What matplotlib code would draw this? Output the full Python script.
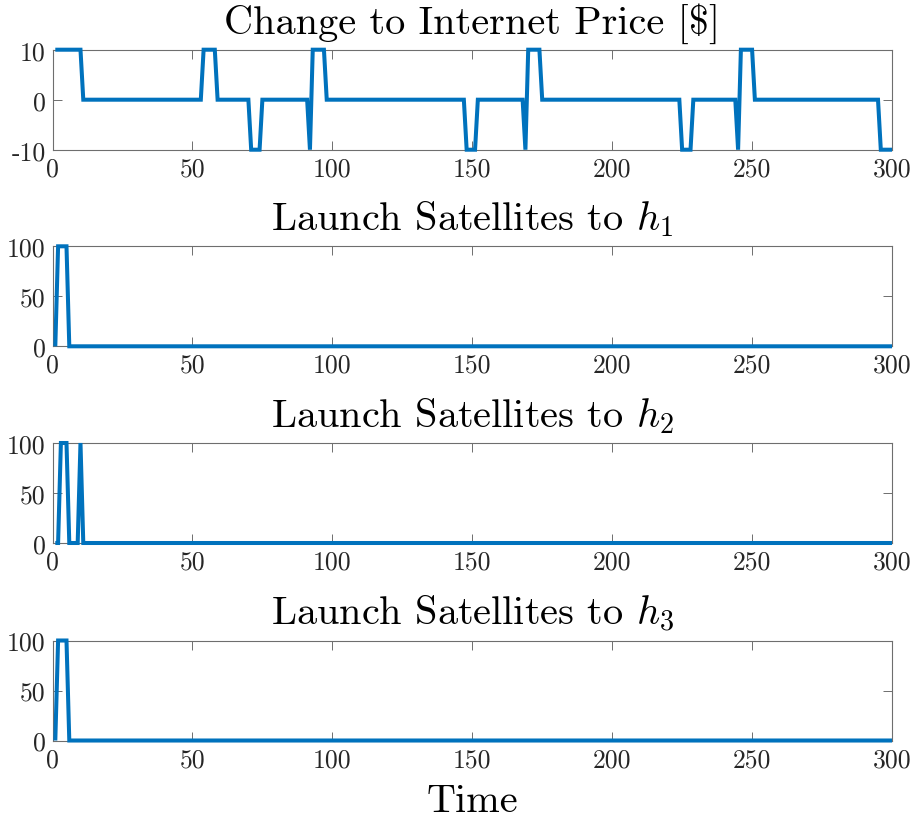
import numpy as np
import matplotlib
matplotlib.use("Agg")
import matplotlib.pyplot as plt

plt.rcParams['font.family'] = ['cmr10', 'DejaVu Serif']
plt.rcParams['mathtext.fontset'] = 'cm'
plt.rcParams['axes.unicode_minus'] = False

# ---- data (run-length encoded control signals, t = 1..300) ----
time = np.arange(1, 301)

price_levels = [10, 0, 10, 0, -10, 0, -10, 10, 0, -10, 0, -10, 10, 0, -10, 0, -10, 10, 0, -10]
price_runs   = [10, 43, 5, 12, 4, 17, 1, 5, 50, 4, 17, 1, 5, 50, 4, 16, 1, 5, 45, 5]

h1_levels = [0, 100, 0]
h1_runs   = [1, 4, 295]

h2_levels = [0, 100, 0, 100, 0]
h2_runs   = [2, 3, 4, 1, 290]

h3_levels = [0, 100, 0]
h3_runs   = [1, 4, 295]

titles = ["Change to Internet Price [\\$]",
          "Launch Satellites to $h_1$",
          "Launch Satellites to $h_2$",
          "Launch Satellites to $h_3$"]

x_ticks = [0, 50, 100, 150, 200, 250, 300]
price_yticks = [-10, 0, 10]
price_yticklabels = ["-10", "0", "10"]
launch_yticks = [0, 50, 100]
launch_yticklabels = ["0", "50", "100"]

series = [np.repeat(price_levels, price_runs),
          np.repeat(h1_levels, h1_runs),
          np.repeat(h2_levels, h2_runs),
          np.repeat(h3_levels, h3_runs)]

# ---- figure ----
W, H = 916, 820
fig = plt.figure(figsize=(W / 100, H / 100), dpi=100)

left = 52.5 / W
width = 839.5 / W
tops = [50.7, 247.3, 444.0, 641.5]
height_px = 100.0

line_color = '#0072BD'
spine_color = '#6e6e6e'
text_color = '#262626'

for i, (y, title) in enumerate(zip(series, titles)):
    top = tops[i]
    ax = fig.add_axes([left, 1 - (top + height_px) / H, width, height_px / H])
    ax.plot(time, y, color=line_color, lw=2.9, clip_on=False,
            solid_joinstyle='miter', solid_capstyle='butt', zorder=3)
    ax.set_xlim(0, 300)
    if i == 0:
        ax.set_ylim(-10, 10)
        ax.set_yticks(price_yticks)
        ax.set_yticklabels(price_yticklabels)
    else:
        ax.set_ylim(0, 100)
        ax.set_yticks(launch_yticks)
        ax.set_yticklabels(launch_yticklabels)
    ax.set_xticks(x_ticks)
    ax.set_xticklabels([str(v) for v in x_ticks])
    for s in ax.spines.values():
        s.set_color(spine_color)
        s.set_linewidth(0.8)
    ax.tick_params(direction='in', length=6.5, width=0.7, color=spine_color,
                   top=True, right=True, labelsize=18.5, labelcolor=text_color,
                   pad=5)
    ax.set_title(title, fontsize=29, color='black', pad=12)

fig.text(left + width / 2, 1 - 812 / H, "Time", ha='center', va='baseline',
         fontsize=29, color='black')

fig.savefig("out.png", dpi=100)
